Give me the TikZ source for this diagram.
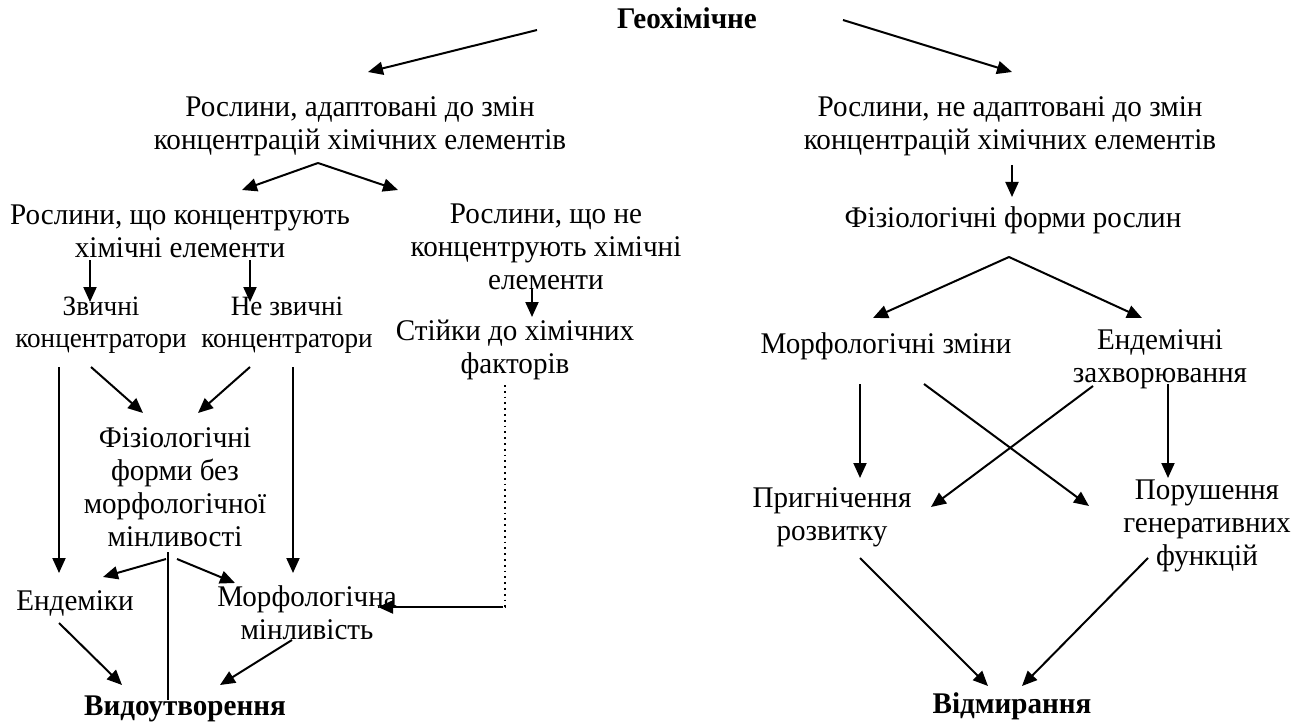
\documentclass[tikz,border=0pt]{standalone}
\usepackage{fontspec}
\setmainfont[FakeStretch=0.97]{Liberation Serif}
\usetikzlibrary{arrows.meta}
\begin{document}
\begin{tikzpicture}[x=0.5pt,y=-0.5pt,
  lbl/.style={font=\fontsize{15}{16.5}\selectfont, align=center, inner sep=0pt,
    anchor=north, execute at begin node=\strut},
  small/.style={lbl, font=\fontsize{14}{16}\selectfont},
  ttl/.style={lbl, font=\fontsize{15}{16.5}\selectfont\bfseries},
  arr/.style={line width=1pt, -{Triangle[length=7.5pt,width=6.5pt]}},
  ln/.style={line width=1pt},
  dotln/.style={line width=0.9pt, dotted}]
\useasboundingbox (0,0) rectangle (1307,722);

% --- text blocks (anchored at the top of the first line) ---
\node[ttl] (geo) at (687,5) {Геохімічне};
\node[lbl] (adapt) at (360,96) {Рослини, адаптовані до змін\\концентрацій хімічних елементів};
\node[lbl] (nadapt) at (1010,96) {Рослини, не адаптовані до змін\\концентрацій хімічних елементів};
\node[lbl] (conc) at (180,204) {Рослини, що концентрують\\хімічні елементи};
\node[lbl] (nconc) at (546,203) {Рослини, що не\\концентрують хімічні\\елементи};
\node[lbl] (phys) at (1013,204) {Фізіологічні форми рослин};
\node[small] (usual) at (101,297) {Звичні\\концентратори};
\node[small] (unusual) at (287,297) {Не звичні\\концентратори};
\node[lbl] (resist) at (515,320) {Стійки до хімічних\\факторів};
\node[lbl] (physnm) at (175,427) {Фізіологічні\\форми без\\морфологічної\\мінливості};
\node[lbl] (endem) at (75,587) {Ендеміки};
\node[lbl] (morphv) at (307,585) {Морфологічна\\мінливість};
\node[ttl] (spec) at (185,692) {Видоутворення};
\node[lbl] (morphc) at (886,330) {Морфологічні зміни};
\node[lbl] (endis) at (1160,329) {Ендемічні\\захворювання};
\node[lbl] (oppr) at (832,487) {Пригнічення\\розвитку};
\node[lbl] (gen) at (1207,479) {Порушення\\генеративних\\функцій};
\node[ttl] (death) at (1012,690) {Відмирання};

% --- connector end points ---
\coordinate (geoL) at (537,30);   \coordinate (adaptT) at (368,72);
\coordinate (geoR) at (843,20);   \coordinate (nadaptT) at (1012,72);
\coordinate (adaptB) at (318,163); \coordinate (concT) at (242,190);
\coordinate (nconcT) at (398,190);
\coordinate (nadaptB) at (1012,165); \coordinate (physT) at (1012,197);
\coordinate (concBL) at (90,260); \coordinate (usualT) at (90,302);
\coordinate (concBR) at (250,260); \coordinate (unusualT) at (250,302);
\coordinate (nconcB) at (532,288); \coordinate (resistT) at (532,317);
\coordinate (usualB) at (59,367); \coordinate (endemT) at (59,573);
\coordinate (usualBR) at (91,367); \coordinate (physnmTL) at (143,413);
\coordinate (unusualBL) at (250,367); \coordinate (physnmTR) at (198,413);
\coordinate (unusualB) at (293,367); \coordinate (morphvT) at (293,573);
\coordinate (physnmB) at (168,552); \coordinate (specT) at (168,700);
\coordinate (physnmBL) at (166,559); \coordinate (endemTR) at (103,577);
\coordinate (physnmBR) at (177,559); \coordinate (morphvTL) at (235,583);
\coordinate (resistB) at (505,385); \coordinate (bend) at (505,607);
\coordinate (bendL) at (503,607); \coordinate (morphvR) at (378,607);
\coordinate (endemB) at (59,623); \coordinate (specTL) at (122,685);
\coordinate (morphvB) at (292,640); \coordinate (specTR) at (220,685);
\coordinate (physB) at (1009,257); \coordinate (morphcT) at (873,318);
\coordinate (endisT) at (1142,318);
\coordinate (morphcB) at (860,384); \coordinate (opprT) at (860,478);
\coordinate (morphcBR) at (924,384); \coordinate (genTL) at (1089,506);
\coordinate (endisBL) at (1093,386); \coordinate (opprTR) at (931,507);
\coordinate (endisB) at (1168,384); \coordinate (genT) at (1168,478);
\coordinate (opprB) at (860,558); \coordinate (deathTL) at (988,686);
\coordinate (genB) at (1148,558); \coordinate (deathTR) at (1022,686);

% --- connectors ---
\draw[arr] (geoL) -- (adaptT);
\draw[arr] (geoR) -- (nadaptT);
\draw[arr] (adaptB) -- (concT);
\draw[arr] (adaptB) -- (nconcT);
\draw[arr] (nadaptB) -- (physT);
\draw[arr] (concBL) -- (usualT);
\draw[arr] (concBR) -- (unusualT);
\draw[arr] (nconcB) -- (resistT);
\draw[arr] (usualB) -- (endemT);
\draw[arr] (usualBR) -- (physnmTL);
\draw[arr] (unusualBL) -- (physnmTR);
\draw[arr] (unusualB) -- (morphvT);
\draw[ln] (physnmB) -- (specT);
\draw[arr] (physnmBL) -- (endemTR);
\draw[arr] (physnmBR) -- (morphvTL);
\draw[dotln] (resistB) -- (bend) -- (morphvR);
\draw[arr] (bendL) -- (morphvR);
\draw[arr] (endemB) -- (specTL);
\draw[arr] (morphvB) -- (specTR);
\draw[arr] (physB) -- (morphcT);
\draw[arr] (physB) -- (endisT);
\draw[arr] (morphcB) -- (opprT);
\draw[arr] (morphcBR) -- (genTL);
\draw[arr] (endisBL) -- (opprTR);
\draw[arr] (endisB) -- (genT);
\draw[arr] (opprB) -- (deathTL);
\draw[arr] (genB) -- (deathTR);
\end{tikzpicture}
\end{document}
